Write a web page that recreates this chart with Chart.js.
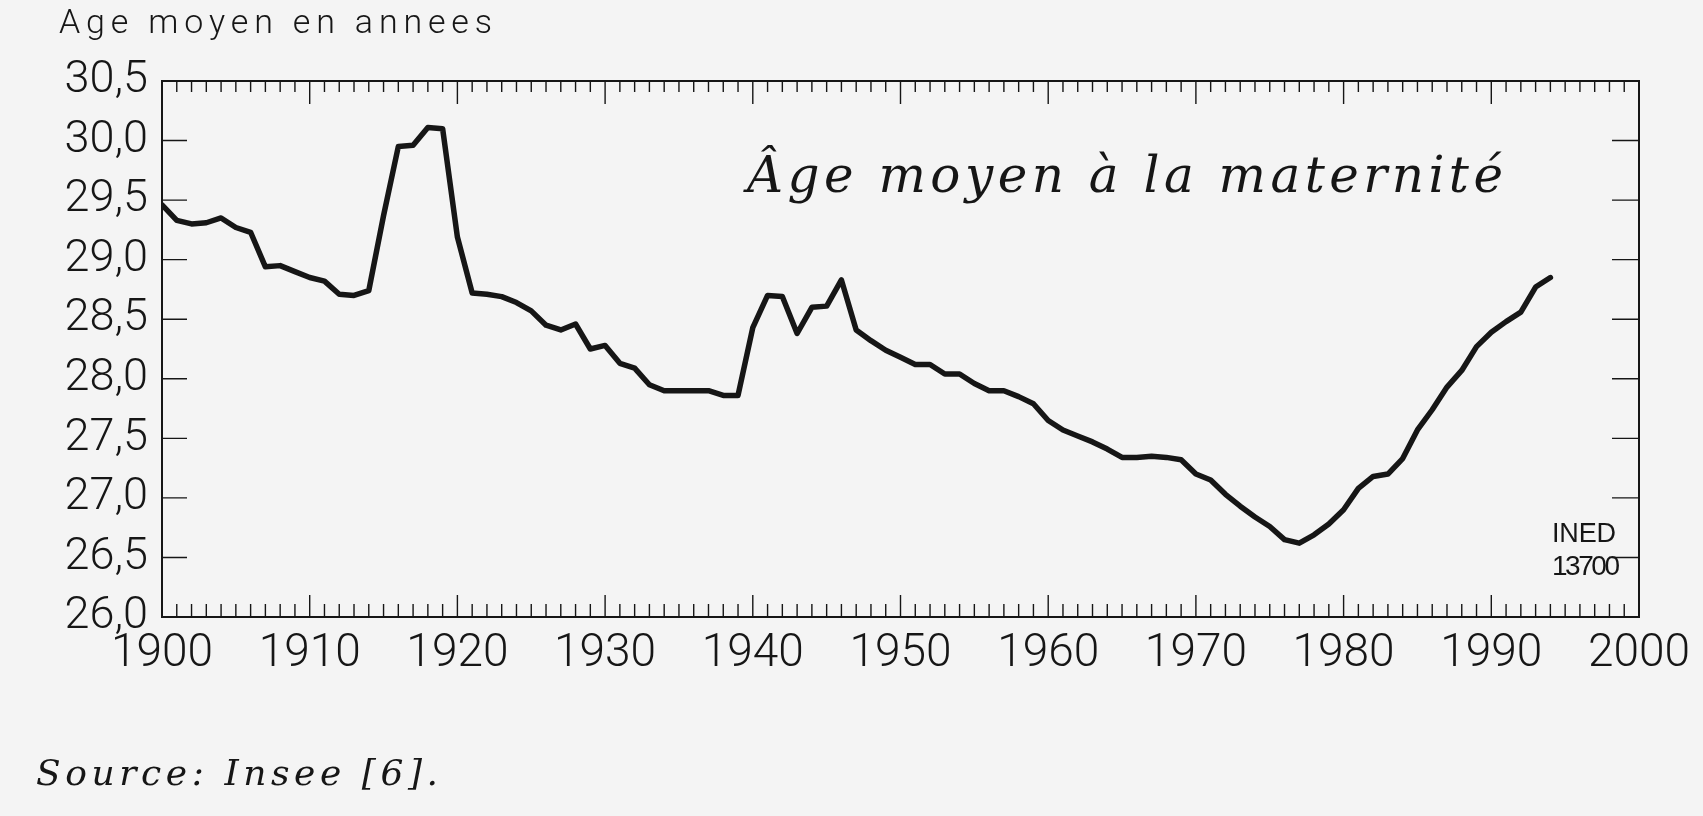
<!DOCTYPE html>
<html lang="fr">
<head>
<meta charset="utf-8">
<title>Âge moyen à la maternité</title>
<script src="https://cdn.jsdelivr.net/npm/chart.js@4.4.1/dist/chart.umd.min.js"></script>
<style>
  html, body { margin: 0; padding: 0; background: #f4f4f4; overflow: hidden; }
  canvas { display: block; }
</style>
</head>
<body>
<canvas id="ageChart" width="1703" height="816"></canvas>
<script>
const years = [
    1900, 1901, 1902, 1903, 1904, 1905, 1906, 1907, 1908, 1909,
    1910, 1911, 1912, 1913, 1914, 1915, 1916, 1917, 1918, 1919,
    1920, 1921, 1922, 1923, 1924, 1925, 1926, 1927, 1928, 1929,
    1930, 1931, 1932, 1933, 1934, 1935, 1936, 1937, 1938, 1939,
    1940, 1941, 1942, 1943, 1944, 1945, 1946, 1947, 1948, 1949,
    1950, 1951, 1952, 1953, 1954, 1955, 1956, 1957, 1958, 1959,
    1960, 1961, 1962, 1963, 1964, 1965, 1966, 1967, 1968, 1969,
    1970, 1971, 1972, 1973, 1974, 1975, 1976, 1977, 1978, 1979,
    1980, 1981, 1982, 1983, 1984, 1985, 1986, 1987, 1988, 1989,
    1990, 1991, 1992, 1993, 1994
];

const ages = [
    29.46, 29.33, 29.30, 29.31, 29.35, 29.27, 29.23, 28.94, 28.95, 28.90,
    28.85, 28.82, 28.71, 28.70, 28.74, 29.37, 29.95, 29.96, 30.11, 30.10,
    29.19, 28.72, 28.71, 28.69, 28.64, 28.57, 28.45, 28.41, 28.46, 28.25,
    28.28, 28.13, 28.09, 27.95, 27.90, 27.90, 27.90, 27.90, 27.86, 27.86,
    28.43, 28.70, 28.69, 28.38, 28.60, 28.61, 28.83, 28.41, 28.32, 28.24,
    28.18, 28.12, 28.12, 28.04, 28.04, 27.96, 27.90, 27.90, 27.85, 27.79,
    27.65, 27.57, 27.52, 27.47, 27.41, 27.34, 27.34, 27.35, 27.34, 27.32,
    27.20, 27.15, 27.03, 26.93, 26.84, 26.76, 26.65, 26.62, 26.69, 26.78,
    26.90, 27.08, 27.18, 27.20, 27.33, 27.57, 27.74, 27.93, 28.07, 28.27,
    28.39, 28.48, 28.56, 28.77, 28.85
];

const yearTicks = [1900, 1910, 1920, 1930, 1940, 1950, 1960, 1970, 1980, 1990, 2000];
const ageTicks = [26.0, 26.5, 27.0, 27.5, 28.0, 28.5, 29.0, 29.5, 30.0, 30.5];

const ink = '#161616';
const sansFont = 'Roboto';
const serifFont = '"DejaVu Serif"';

// draws text stretched by letter spacing to a target width
function fitText(ctx, text, x, y, width, font) {
    ctx.font = font;
    ctx.letterSpacing = '0px';
    const w = ctx.measureText(text).width;
    ctx.letterSpacing = ((width - w) / (text.length - 1)) + 'px';
    ctx.fillText(text, x, y);
    ctx.letterSpacing = '0px';
}

const frame = {
    id: 'frame',
    afterDraw(chart) {
        const { ctx, chartArea: a, scales } = chart;
        const x = scales.x, y = scales.y;

        ctx.save();
        ctx.strokeStyle = ink;
        ctx.lineWidth = 2;
        ctx.strokeRect(a.left, a.top, a.right - a.left, a.bottom - a.top);

        ctx.lineWidth = 1.4;
        ctx.beginPath();
        for (let yr = yearTicks[0] + 1; yr < yearTicks[yearTicks.length - 1]; yr++) {
            const px = x.getPixelForValue(yr);
            const major = yearTicks.includes(yr);
            ctx.moveTo(px, a.bottom);
            ctx.lineTo(px, a.bottom - (major ? 22 : 13));
            ctx.moveTo(px, a.top);
            ctx.lineTo(px, a.top + (major ? 23 : 11));
        }
        ageTicks.slice(1, -1).forEach(v => {
            const py = y.getPixelForValue(v);
            ctx.moveTo(a.left, py);
            ctx.lineTo(a.left + 25, py);
            ctx.moveTo(a.right, py);
            ctx.lineTo(a.right - 27, py);
        });
        ctx.stroke();

        ctx.fillStyle = ink;
        ctx.textAlign = 'left';
        ctx.textBaseline = 'alphabetic';
        fitText(ctx, 'Age moyen en annees', 59, 33, 433, `300 34px ${sansFont}`);
        fitText(ctx, 'Âge moyen à la maternité', 747, 192, 756, `italic 50px ${serifFont}`);
        fitText(ctx, 'INED', 1552, 542, 64, '27px "Liberation Sans"');
        fitText(ctx, '13700', 1552, 575, 68, '28px "Liberation Sans"');
        fitText(ctx, 'Source: Insee [6].', 36, 785, 402, `italic 36px ${serifFont}`);
        ctx.restore();
    }
};

new Chart(document.getElementById('ageChart'), {
    type: 'line',
    data: {
        datasets: [{
            label: 'Âge moyen à la maternité',
            data: years.map((yr, i) => ({ x: yr, y: ages[i] })),
            borderColor: ink,
            borderWidth: 5.5,
            borderJoinStyle: 'round',
            borderCapStyle: 'round',
            pointRadius: 0,
            tension: 0,
            fill: false
        }]
    },
    options: {
        responsive: false,
        animation: false,
        layout: { padding: { top: 81, right: 64, left: 0, bottom: 0 } },
        plugins: {
            legend: { display: false },
            tooltip: { enabled: false }
        },
        scales: {
            x: {
                type: 'linear',
                min: 1900,
                max: 2000,
                grid: { display: false, drawTicks: false },
                border: { display: false },
                afterBuildTicks: s => { s.ticks = yearTicks.map(v => ({ value: v })); },
                afterFit: s => { s.height = 199; },
                ticks: {
                    autoSkip: false,
                    maxRotation: 0,
                    padding: 10,
                    color: ink,
                    font: { family: sansFont, size: 46, weight: '300' },
                    callback: v => String(v)
                }
            },
            y: {
                min: 26,
                max: 30.5,
                grid: { display: false, drawTicks: false },
                border: { display: false },
                afterBuildTicks: s => { s.ticks = ageTicks.map(v => ({ value: v })); },
                afterFit: s => { s.width = 162; },
                ticks: {
                    padding: 14,
                    color: ink,
                    font: { family: sansFont, size: 45, weight: '300' },
                    callback: v => v.toFixed(1).replace('.', ',')
                }
            }
        }
    },
    plugins: [frame]
});
</script>
</body>
</html>
